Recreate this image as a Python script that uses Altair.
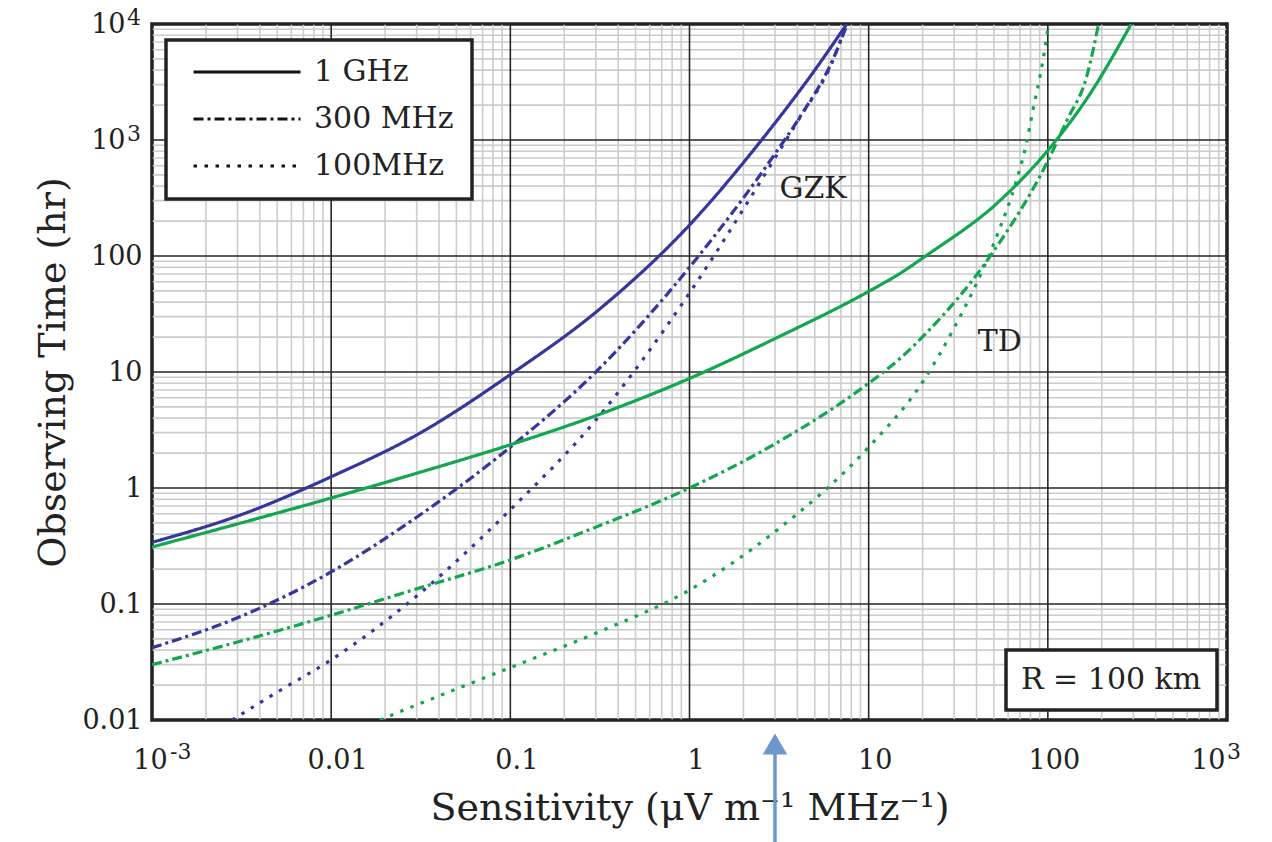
import altair as alt
import pandas as pd

FONT = "DejaVu Serif"
INK = "#222222"
BLUE = "#36369c"
GREEN = "#12a64f"

# ---------------- data ----------------
# GZK, 1 GHz
gzk_1ghz_x = [0.001, 0.00316, 0.01, 0.0316, 0.1, 0.316, 1, 2.5, 5, 7.55]
gzk_1ghz_y = [0.34, 0.59, 1.25, 3.0, 9.5, 35, 185, 980, 4000, 10000]
# GZK, 300 MHz
gzk_300_x = [0.001, 0.003, 0.01, 0.03, 0.1, 0.3, 1, 3, 4.13, 6.3, 7.6]
gzk_300_y = [0.042, 0.076, 0.189, 0.56, 2.25, 10, 80, 760, 1577, 4900, 10000]
# GZK, 100 MHz
gzk_100_x = [0.0028, 0.005, 0.01, 0.03, 0.1, 0.3, 1, 3, 4.13, 6.3, 7.5]
gzk_100_y = [0.01, 0.0174, 0.033, 0.117, 0.65, 3.85, 48, 700, 1560, 4800, 10000]
# TD, 1 GHz
td_1ghz_x = [0.001, 0.003, 0.01, 0.03, 0.1, 0.3, 1, 3, 10, 14.8, 21, 54, 100, 166, 292]
td_1ghz_y = [0.31, 0.49, 0.82, 1.34, 2.36, 4.2, 8.8, 19.4, 49.5, 70, 101, 300, 813, 2300, 10000]
# TD, 300 MHz
td_300_x = [0.001, 0.003, 0.01, 0.03, 0.1, 0.3, 1, 3, 10, 14.9, 21, 49, 98.7, 128, 165, 192]
td_300_y = [0.03, 0.047, 0.08, 0.135, 0.24, 0.46, 1.0, 2.4, 8.0, 13.0, 21.7, 106, 634, 1486, 3550, 10000]
# TD, 100 MHz
td_100_x = [0.0187, 0.03, 0.05, 0.1, 0.3, 1, 3, 10, 20, 30, 52, 67, 76, 82, 94, 101]
td_100_y = [0.01, 0.0135, 0.0185, 0.0283, 0.056, 0.132, 0.42, 2.25, 8.2, 24, 150, 452, 942, 1710, 4900, 10000]

sources = ["GZK", "TD"]
freqs = ["1 GHz", "300 MHz", "100MHz"]

x_ticks = [0.001, 0.01, 0.1, 1, 10, 100, 1000]
x_tick_labels = ["10", "0.01", "0.1", "1", "10", "100", "10"]
y_ticks = [0.01, 0.1, 1, 10, 100, 1000, 10000]
y_tick_labels = ["0.01", "0.1", "1", "10", "100", "10", "10"]

# exponents of the power-of-ten tick labels
x_exp_low_text = ["-3"]
x_exp_low_at = [0.001]
x_exp_high_text = ["3"]
x_exp_high_at = [1000]
y_exp_text = ["3", "4"]
y_exp_at = [1000, 10000]

label_text = ["GZK", "TD"]
label_x = [4.9, 54]
label_y = [378, 18.2]

note_text = ["R = 100 km"]
arrow_x = [3.0]

# ---------------- tables ----------------
rows = []
for src, fr, xs, ys in [
    ("GZK", "1 GHz", gzk_1ghz_x, gzk_1ghz_y),
    ("GZK", "300 MHz", gzk_300_x, gzk_300_y),
    ("GZK", "100MHz", gzk_100_x, gzk_100_y),
    ("TD", "1 GHz", td_1ghz_x, td_1ghz_y),
    ("TD", "300 MHz", td_300_x, td_300_y),
    ("TD", "100MHz", td_100_x, td_100_y),
]:
    for x, y in zip(xs, ys):
        rows.append({"x": x, "y": y, "source": src, "freq": fr, "curve": src + fr})
curves = pd.DataFrame(rows)

minor_x = [m * 10.0 ** e for e in range(-3, 3) for m in range(2, 10)]
minor_y = [m * 10.0 ** e for e in range(-2, 4) for m in range(2, 10)]


def label_expr(vals, labs):
    expr = "''"
    for v, lab in reversed(list(zip(vals, labs))):
        expr = f"(datum.value < {v * 1.5!r}) ? '{lab}' : ({expr})"
    return expr


xscale = alt.Scale(type="log", domain=[0.001, 1000], nice=False)
yscale = alt.Scale(type="log", domain=[0.01, 10000], nice=False)

xaxis = alt.Axis(
    values=x_ticks, labelExpr=label_expr(x_ticks, x_tick_labels),
    grid=False, ticks=False, domain=False, labelFlush=False, labelOverlap=False,
    labelFont=FONT, labelFontSize=27, labelColor=INK, labelPadding=27,
    labelOffset={"condition": {"test": "datum.value < 0.005 || datum.value > 500", "value": -2},
                 "value": 6},
    labelAlign={"condition": {"test": "datum.value > 500", "value": "right"}, "value": "center"},
    labelLimit=400,
    titleFont=FONT, titleFontSize=38, titleFontWeight="normal", titleColor=INK,
    titleY=99, titleBaseline="alphabetic",
)
yaxis = alt.Axis(
    values=y_ticks, labelExpr=label_expr(y_ticks, y_tick_labels),
    grid=False, ticks=False, domain=False, labelFlush=False, labelOverlap=False,
    labelFont=FONT, labelFontSize=27, labelColor=INK,
    labelPadding={"condition": {"test": "datum.value > 500", "value": 27}, "value": 10},
    labelLimit=400,
    titleFont=FONT, titleFontSize=38, titleFontWeight="normal", titleColor=INK,
    titleX=-88, titleBaseline="alphabetic",
)
XT = "Sensitivity (μV m⁻¹ MHz⁻¹)"
YT = "Observing Time (hr)"


def X(field):
    return alt.X(field, type="quantitative", scale=xscale, axis=xaxis, title=XT)


def Y(field):
    return alt.Y(field, type="quantitative", scale=yscale, axis=yaxis, title=YT)


minor_v = alt.Chart(pd.DataFrame({"x": minor_x})).mark_rule(
    color="#cccccc", strokeWidth=1.6).encode(x=X("x"))
minor_h = alt.Chart(pd.DataFrame({"y": minor_y})).mark_rule(
    color="#cccccc", strokeWidth=1.6).encode(y=Y("y"))
major_v = alt.Chart(pd.DataFrame({"x": x_ticks})).mark_rule(
    color="#262626", strokeWidth=1.6).encode(x=X("x"))
major_h = alt.Chart(pd.DataFrame({"y": y_ticks})).mark_rule(
    color="#262626", strokeWidth=1.6).encode(y=Y("y"))

lines = alt.Chart(curves).mark_line(
    strokeWidth=3.2, interpolate="monotone", clip=True
).encode(
    x=X("x"),
    y=Y("y"),
    color=alt.Color("source:N", scale=alt.Scale(domain=sources, range=[BLUE, GREEN]), legend=None),
    strokeDash=alt.StrokeDash(
        "freq:N",
        scale=alt.Scale(domain=freqs, range=[[1, 0], [10, 4, 3, 4], [3.5, 7.5]]),
        legend=alt.Legend(
            title=None, orient="none", legendX=14, legendY=16,
            symbolType="stroke", symbolSize=107 * 107, symbolStrokeWidth=3,
            symbolStrokeColor="#111111",
            labelFont=FONT, labelFontSize=30, labelColor=INK, labelLimit=400,
            labelOffset=12, symbolOffset=8, clipHeight=28, rowPadding=17,
            padding=18, fillColor="white", strokeColor="#222222",
        ),
    ),
    detail="curve:N",
)

labels = alt.Chart(pd.DataFrame({"t": label_text, "x": label_x, "y": label_y})).mark_text(
    font=FONT, fontSize=30, color=INK
).encode(x=X("x"), y=Y("y"), text="t:N")

x_exp_low = alt.Chart(pd.DataFrame({"t": x_exp_low_text, "x": x_exp_low_at})).mark_text(
    font=FONT, fontSize=22, color=INK, align="left", baseline="alphabetic", dx=18, dy=39
).encode(x=X("x"), y=alt.value(696), text="t:N")
x_exp_high = alt.Chart(pd.DataFrame({"t": x_exp_high_text, "x": x_exp_high_at})).mark_text(
    font=FONT, fontSize=22, color=INK, align="left", baseline="alphabetic", dx=0, dy=39
).encode(x=X("x"), y=alt.value(696), text="t:N")
y_exp = alt.Chart(pd.DataFrame({"t": y_exp_text, "y": y_exp_at})).mark_text(
    font=FONT, fontSize=22, color=INK, align="left", baseline="alphabetic", dx=-25, dy=1
).encode(x=alt.value(0), y=Y("y"), text="t:N")

note = alt.Chart(pd.DataFrame({"note": note_text})).mark_point(opacity=0).encode(
    shape=alt.Shape(
        "note:N",
        legend=alt.Legend(
            title=None, orient="bottom-right", offset=10,
            symbolSize=0, symbolOpacity=0, labelOffset={"expr": "-30"}, labelLimit=400,
            labelFont=FONT, labelFontSize=30, labelColor=INK,
            padding=15, fillColor="white", strokeColor="#222222",
        ),
    )
)

arrow_df = pd.DataFrame({"x": arrow_x})
arrow_shaft = alt.Chart(arrow_df).mark_rule(color="#6c97cf", strokeWidth=3.5).encode(
    x=X("x"), y=alt.value(728), y2=alt.value(820)
)
arrow_head = alt.Chart(arrow_df).mark_point(
    shape="triangle-up", filled=True, color="#6c97cf", opacity=1, size=600
).encode(x=X("x"), y=alt.value(720))

chart = alt.layer(
    minor_v, minor_h, major_v, major_h, lines, labels, x_exp_low, x_exp_high, y_exp, note,
    arrow_shaft, arrow_head
).properties(
    width=1075, height=696,
    autosize=alt.AutoSizeParams(type="none"),
    padding={"left": 152, "top": 24, "right": 45, "bottom": 122},
    background="white",
).configure_view(
    stroke="#1c1c1c", strokeWidth=3.5
).configure_legend(
    strokeWidth=3.5
)

chart.save("out.html", embed_options={"renderer": "svg", "actions": False})
